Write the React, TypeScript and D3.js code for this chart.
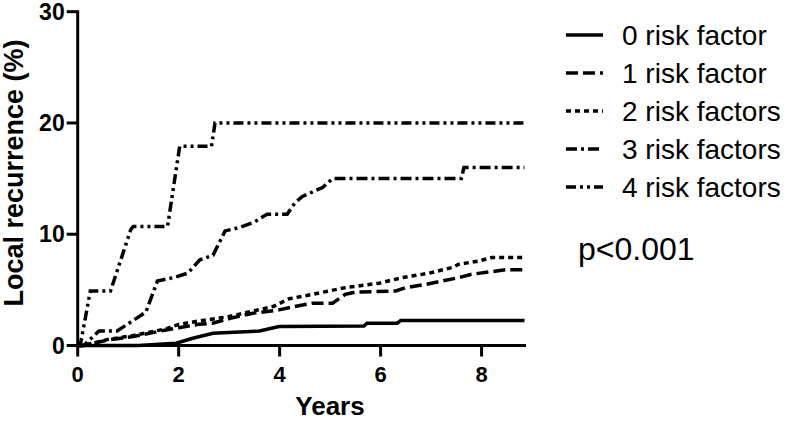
import React from "react";
import * as d3 from "d3";

// years / local recurrence %
const t0 = [0, 1.2, 1.95, 2.28, 2.68, 3.6, 3.99, 5.67, 5.73, 6.33, 6.4, 8.85];
const r0 = [0, 0, 0.2, 0.65, 1.1, 1.3, 1.7, 1.75, 2.0, 2.0, 2.25, 2.25];

const t1 = [0, 0.12, 0.6, 1.1, 1.75, 2.0, 2.4, 2.67, 3.07, 3.47, 3.99, 4.3, 4.65, 5.05, 5.3, 5.5, 6.3, 6.5, 6.9, 7.55, 7.8, 8.47, 8.85];
const r1 = [0, 0, 0.5, 0.8, 1.4, 1.6, 1.9, 2.0, 2.5, 2.9, 3.2, 3.5, 3.8, 3.8, 4.6, 4.8, 4.9, 5.2, 5.5, 6.1, 6.4, 6.8, 6.8];

const t2 = [0, 0.12, 0.6, 1.1, 1.75, 2.0, 2.4, 3.0, 3.47, 3.87, 4.19, 4.65, 5.3, 5.97, 6.43, 6.96, 7.41, 7.55, 7.95, 8.2, 8.85];
const r2 = [0, 0, 0.55, 0.9, 1.5, 1.9, 2.2, 2.6, 3.1, 3.5, 4.2, 4.6, 5.2, 5.6, 6.1, 6.5, 7.0, 7.3, 7.6, 7.9, 7.9];

const t3 = [0, 0.12, 0.42, 0.78, 1.35, 1.58, 1.9, 2.18, 2.42, 2.68, 2.92, 3.2, 3.5, 3.75, 4.15, 4.3, 4.45, 4.85, 5.05, 7.6, 7.65, 8.85];
const r3 = [0, 0, 1.3, 1.3, 3.0, 5.8, 6.1, 6.5, 7.7, 8.1, 10.3, 10.6, 11.1, 11.8, 11.8, 12.8, 13.4, 14.2, 15.0, 15.0, 16.0, 16.0];

const t4 = [0, 0.05, 0.25, 0.65, 1.05, 1.1, 1.78, 2.02, 2.65, 2.72, 8.85];
const r4 = [0, 0, 4.9, 4.9, 10.4, 10.7, 10.7, 17.9, 17.9, 20.0, 20.0];

const labels = ["0 risk factor", "1 risk factor", "2 risk factors", "3 risk factors", "4 risk factors"];
const dashes = ["", "12,5", "5,4", "11,4,3,4", "10,4,3,4,3,4"];

const xTicks = [0, 2, 4, 6, 8];
const yTicks = [0, 10, 20, 30];

const font = "'Liberation Sans', Arial, sans-serif";

export default function App() {
  const x = d3.scaleLinear().domain([0, 8.88]).range([77.7, 526]);
  const y = d3.scaleLinear().domain([0, 30]).range([345.5, 11.7]);

  const series = [
    [t0, r0],
    [t1, r1],
    [t2, r2],
    [t3, r3],
    [t4, r4],
  ];

  const line = d3
    .line<[number, number]>()
    .x((d) => x(d[0]))
    .y((d) => y(d[1]));

  return (
    <svg
      width={787}
      height={421}
      style={{ position: "absolute", left: 0, top: 0, background: "#fff" }}
      fontFamily={font}
    >
      {series.map(([ts, rs], i) => (
        <path
          key={i}
          d={line(ts.map((t, j) => [t, rs[j]]) as [number, number][]) || ""}
          fill="none"
          stroke="#000"
          strokeWidth={3.5}
          strokeDasharray={dashes[i]}
        />
      ))}

      {/* axes */}
      <line x1={x(0)} x2={x(0)} y1={y(30) - 1.5} y2={y(0) + 1.5} stroke="#000" strokeWidth={3} />
      <line x1={x(0)} x2={x.range()[1]} y1={y(0)} y2={y(0)} stroke="#000" strokeWidth={3} />
      {yTicks.map((v) => (
        <g key={v}>
          <line x1={x(0) - 11} x2={x(0)} y1={y(v)} y2={y(v)} stroke="#000" strokeWidth={3} />
          <text x={x(0) - 13} y={y(v) + 8} textAnchor="end" fontSize={23} fontWeight="bold">
            {v}
          </text>
        </g>
      ))}
      {xTicks.map((v) => (
        <g key={v}>
          <line x1={x(v)} x2={x(v)} y1={y(0)} y2={y(0) + 11} stroke="#000" strokeWidth={3} />
          <text x={x(v)} y={382} textAnchor="middle" fontSize={22} fontWeight="bold">
            {v}
          </text>
        </g>
      ))}
      <text x={330} y={415} textAnchor="middle" fontSize={26} fontWeight="bold">
        Years
      </text>
      <text
        transform={`translate(23,173) rotate(-90)`}
        textAnchor="middle"
        fontSize={27}
        fontWeight="bold"
      >
        Local recurrence (%)
      </text>

      {/* legend */}
      {labels.map((l, i) => {
        const cy = 35 + 38 * i;
        return (
          <g key={l}>
            <line x1={566} x2={603} y1={cy} y2={cy} stroke="#000" strokeWidth={3.5} strokeDasharray={dashes[i]} />
            <text x={622} y={cy + 10} fontSize={28}>
              {l}
            </text>
          </g>
        );
      })}
      <text x={578} y={260} fontSize={32}>
        p&lt;0.001
      </text>
    </svg>
  );
}
